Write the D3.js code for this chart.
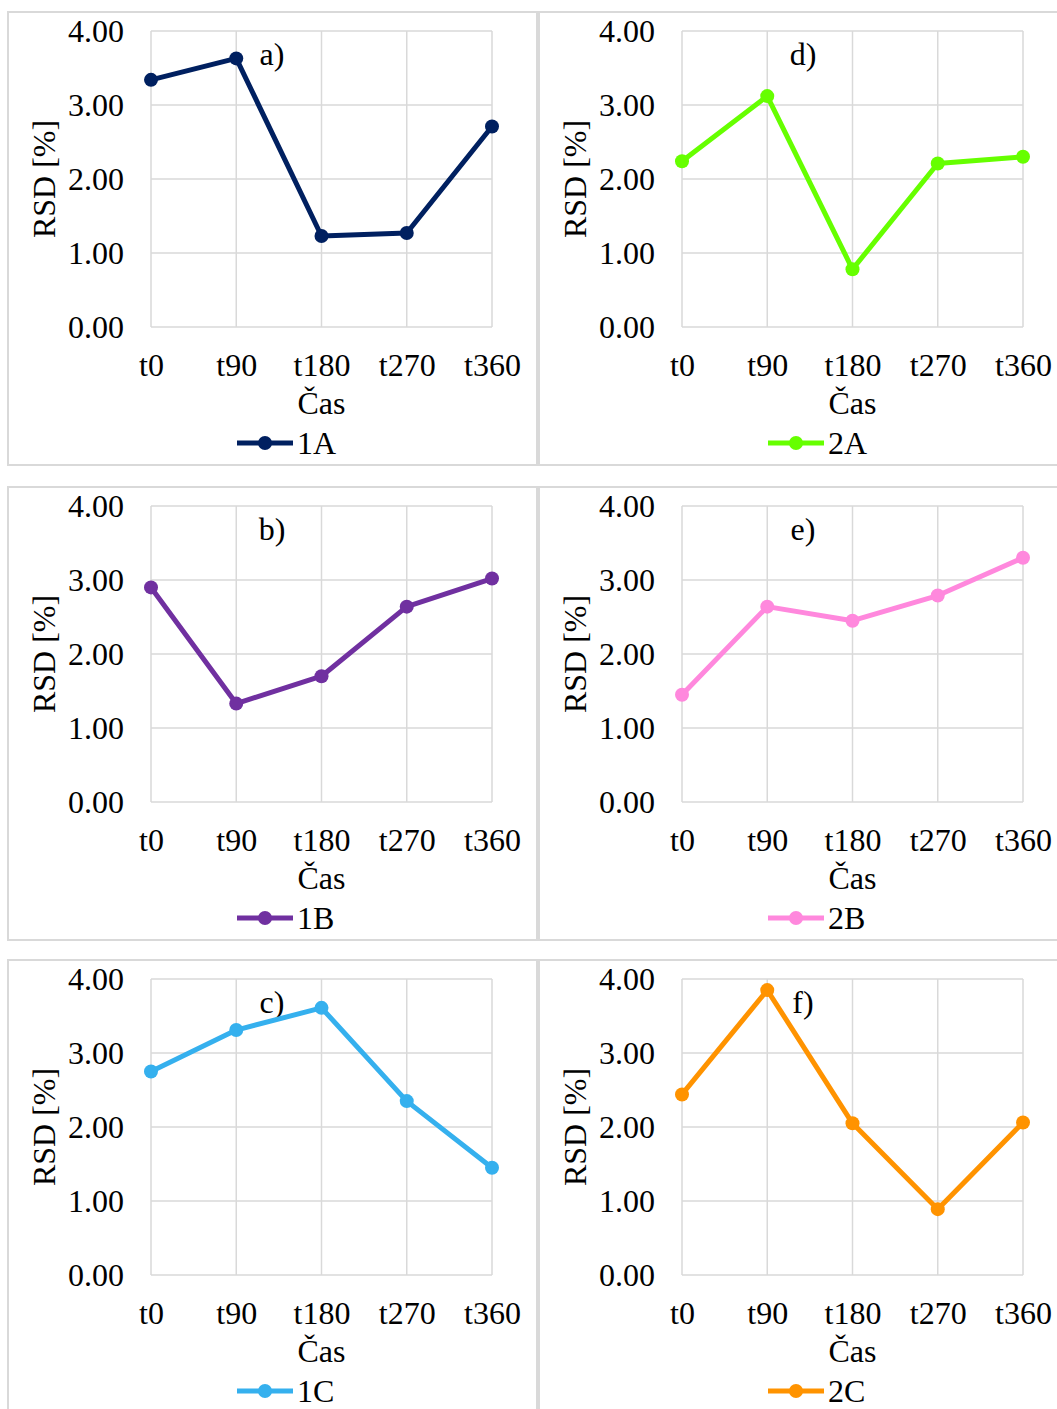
<!DOCTYPE html>
<html>
<head>
<meta charset="utf-8">
<script src="https://cdn.jsdelivr.net/npm/d3@7"></script>
<style>
  html, body { margin: 0; padding: 0; background: #fff; }
  svg { display: block; }
  text { font-family: "Liberation Serif", "Times New Roman", serif; fill: #000; }
</style>
</head>
<body>
<svg id="chart" width="1057" height="1409"></svg>
<script>
// ---- data ----
const categories = ["t0", "t90", "t180", "t270", "t360"];
const yTicks = [0, 1, 2, 3, 4];
const seriesNames = ["1A", "1B", "1C", "2A", "2B", "2C"];
const panelLetters = ["a)", "b)", "c)", "d)", "e)", "f)"];
const values1A = [3.34, 3.63, 1.23, 1.27, 2.71];
const values1B = [2.90, 1.33, 1.70, 2.64, 3.02];
const values1C = [2.75, 3.31, 3.61, 2.35, 1.45];
const values2A = [2.24, 3.12, 0.78, 2.21, 2.30];
const values2B = [1.45, 2.64, 2.45, 2.79, 3.30];
const values2C = [2.44, 3.85, 2.05, 0.89, 2.06];
const seriesValues = [values1A, values1B, values1C, values2A, values2B, values2C];
const xTitle = "Čas";
const yTitle = "RSD [%]";

// ---- styles ----
const colors = ["#002060", "#7030A0", "#35B0EE", "#66FF00", "#FF88DD", "#FF9300"];
const gridColor = "#d9d9d9";
const FS = 32;

const svg = d3.select("#chart");
const colX = [8, 539];
const rowY = [12, 487, 960];
const panelW = [529, 540];
const panelH = 453;

const x = d3.scalePoint().domain(categories).range([143, 484]);
const y = d3.scaleLinear().domain([0, 4]).range([315, 19]);

seriesNames.forEach((name, i) => {
  const col = Math.floor(i / 3), row = i % 3;
  const g = svg.append("g").attr("transform", `translate(${colX[col]},${rowY[row]})`);
  const vals = seriesValues[i];
  const color = colors[i];

  g.append("rect")
    .attr("x", 0).attr("y", 0)
    .attr("width", panelW[col]).attr("height", panelH)
    .attr("fill", "#fff").attr("stroke", gridColor).attr("stroke-width", 2);

  // horizontal gridlines
  g.append("g").selectAll("line").data(yTicks).join("line")
    .attr("x1", x.range()[0]).attr("x2", x.range()[1])
    .attr("y1", d => y(d)).attr("y2", d => y(d))
    .attr("stroke", gridColor).attr("stroke-width", 1.5);
  // vertical gridlines
  g.append("g").selectAll("line").data(categories).join("line")
    .attr("x1", d => x(d)).attr("x2", d => x(d))
    .attr("y1", y(4)).attr("y2", y(0))
    .attr("stroke", gridColor).attr("stroke-width", 1.5);

  // y axis tick labels
  const yAxis = d3.axisLeft(y).tickValues(yTicks).tickFormat(d3.format(".2f")).tickSize(0).tickPadding(27);
  const ya = g.append("g").attr("transform", `translate(${x.range()[0]},0)`).call(yAxis);
  ya.select(".domain").remove();
  ya.selectAll("text").attr("font-size", FS).attr("fill", "#000").attr("dy", "0.32em");

  // x axis tick labels
  const xAxis = d3.axisBottom(x).tickSize(0).tickPadding(26);
  const xa = g.append("g").attr("transform", `translate(0,${y(0)})`).call(xAxis);
  xa.select(".domain").remove();
  xa.selectAll("text").attr("font-size", FS).attr("fill", "#000");

  // axis titles
  g.append("text").attr("x", (x.range()[0] + x.range()[1]) / 2).attr("y", 402)
    .attr("text-anchor", "middle").attr("font-size", FS).text(xTitle);
  g.append("text")
    .attr("transform", `translate(47,${(y(0) + y(4)) / 2}) rotate(-90)`)
    .attr("text-anchor", "middle").attr("font-size", FS).text(yTitle);

  // panel letter
  g.append("text").attr("x", 264).attr("y", 53).attr("text-anchor", "middle")
    .attr("font-size", FS).text(panelLetters[i]);

  // line
  const line = d3.line().x((d, j) => x(categories[j])).y(d => y(d));
  g.append("path").datum(vals).attr("d", line)
    .attr("fill", "none").attr("stroke", color).attr("stroke-width", 5)
    .attr("stroke-linejoin", "round");
  g.append("g").selectAll("circle").data(vals).join("circle")
    .attr("cx", (d, j) => x(categories[j])).attr("cy", d => y(d))
    .attr("r", 7).attr("fill", color);

  // legend
  const lg = g.append("g");
  lg.append("line").attr("x1", 229).attr("x2", 285).attr("y1", 431).attr("y2", 431)
    .attr("stroke", color).attr("stroke-width", 5);
  lg.append("circle").attr("cx", 257).attr("cy", 431).attr("r", 7).attr("fill", color);
  lg.append("text").attr("x", 289).attr("y", 442).attr("font-size", FS).text(name);
});
</script>
</body>
</html>
